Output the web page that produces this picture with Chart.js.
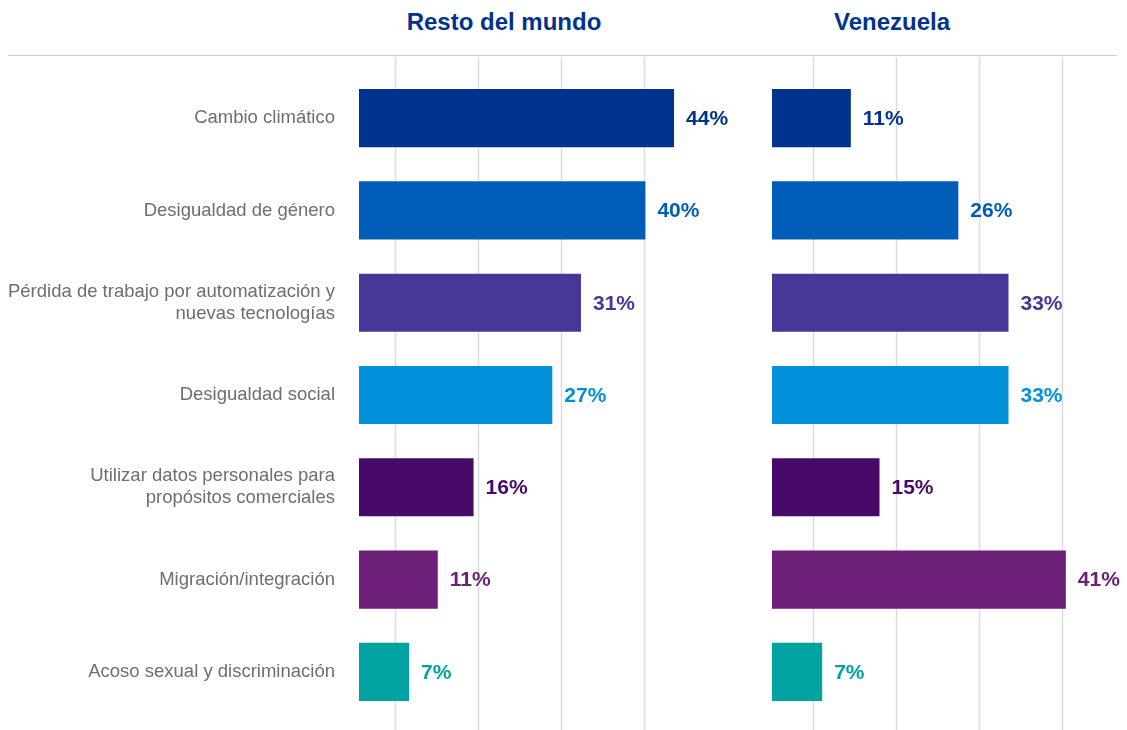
<!DOCTYPE html>
<html>
<head>
<meta charset="utf-8">
<script src="https://cdn.jsdelivr.net/npm/chart.js@4.4.1/dist/chart.umd.min.js"></script>
<style>
    body { margin: 0; background: #fff; width: 1127px; height: 730px; overflow: hidden; position: relative; font-family: "Liberation Sans", Arial, sans-serif; }
    .title { position: absolute; top: 8px; font-weight: bold; font-size: 24px; color: #00338D; transform: translateX(-50%); white-space: nowrap; }
    .topline { position: absolute; left: 8px; top: 55px; width: 1109px; height: 0; border-top: 1.5px solid #cfcfcf; }
    #leftWrap { position: absolute; left: 0; top: 0; width: 750px; height: 730px; }
    #rightWrap { position: absolute; left: 750px; top: 0; width: 377px; height: 730px; }
</style>
</head>
<body>
<div class="title" style="left:504px">Resto del mundo</div>
<div class="title" style="left:892px">Venezuela</div>
<div class="topline"></div>
<div id="leftWrap"><canvas id="leftChart"></canvas></div>
<div id="rightWrap"><canvas id="rightChart"></canvas></div>
<script>
// Categories and values
const categories = [
    'Cambio climático',
    'Desigualdad de género',
    ['Pérdida de trabajo por automatización y', 'nuevas tecnologías'],
    'Desigualdad social',
    ['Utilizar datos personales para', 'propósitos comerciales'],
    'Migración/integración',
    'Acoso sexual y discriminación'
];
const restoDelMundo = [44, 40, 31, 27, 16, 11, 7];
const venezuela = [11, 26, 33, 33, 15, 41, 7];
const barColors = ['#00338D', '#005EB8', '#483698', '#0091DA', '#470A68', '#6D2077', '#00A3A1'];

// Vertical guide lines (in % units)
const leftGridTicks = [5, 16.6, 28.2, 39.8];
const rightGridTicks = [5.7, 17.3, 28.9, 40.5];

// Draw the vertical guides full height, behind the bars
function guidePlugin(ticks) {
    return {
        id: 'guides',
        beforeDatasetsDraw(chart) {
            const ctx = chart.ctx;
            const x = chart.scales.x;
            ctx.save();
            ctx.strokeStyle = '#dcdcdc';
            ctx.lineWidth = 1.5;
            ticks.forEach(t => {
                const px = Math.round(x.getPixelForValue(t)) + 0.5;
                ctx.beginPath();
                ctx.moveTo(px, 57);
                ctx.lineTo(px, chart.height);
                ctx.stroke();
            });
            ctx.restore();
        }
    };
}

// Value labels at the end of each bar
const valueLabels = {
    id: 'valueLabels',
    afterDatasetsDraw(chart) {
        const ctx = chart.ctx;
        const meta = chart.getDatasetMeta(0);
        const values = chart.data.datasets[0].data;
        ctx.save();
        ctx.font = 'bold 21px "Liberation Sans", Arial, sans-serif';
        ctx.textAlign = 'left';
        ctx.textBaseline = 'middle';
        meta.data.forEach((bar, i) => {
            ctx.fillStyle = barColors[i];
            ctx.fillText(values[i] + '%', bar.x + 12, bar.y + 1);
        });
        ctx.restore();
    }
};

function makeChart(id, values, ticks, max, showLabels, padLeft, padRight) {
    const ctx = document.getElementById(id).getContext('2d');
    return new Chart(ctx, {
        type: 'bar',
        data: {
            labels: categories,
            datasets: [{
                data: values,
                backgroundColor: barColors,
                borderWidth: 0,
                barPercentage: 0.63,
                categoryPercentage: 1
            }]
        },
        options: {
            indexAxis: 'y',
            responsive: true,
            maintainAspectRatio: false,
            animation: false,
            layout: {
                padding: { top: 72, bottom: 12, left: padLeft, right: padRight }
            },
            plugins: {
                legend: { display: false },
                tooltip: { enabled: false }
            },
            scales: {
                x: {
                    display: false,
                    min: 0,
                    max: max
                },
                y: {
                    display: showLabels,
                    grid: { display: false, drawTicks: false },
                    border: { display: false },
                    ticks: {
                        color: '#6e6e6e',
                        padding: 24,
                        font: { size: 18.5, family: '"Liberation Sans", Arial, sans-serif' }
                    },
                    afterFit(scale) {
                        if (showLabels) scale.width = 359;
                        scale.paddingTop = 0;
                        scale.paddingBottom = 0;
                    }
                }
            }
        },
        plugins: [guidePlugin(ticks), valueLabels]
    });
}

makeChart('leftChart', restoDelMundo, leftGridTicks, 50, true, 0, 33);
makeChart('rightChart', venezuela, rightGridTicks, 48, false, 22, 11);
</script>
</body>
</html>
